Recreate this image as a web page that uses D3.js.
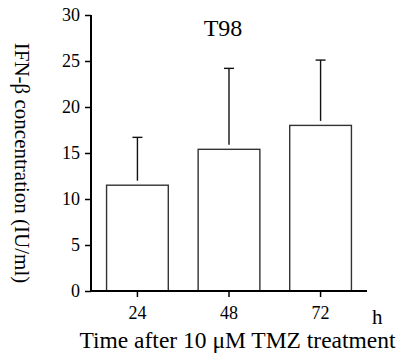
<!DOCTYPE html>
<html>
<head>
<meta charset="utf-8">
<script src="https://cdn.jsdelivr.net/npm/d3@7"></script>
<style>
  body { margin: 0; background: #fff; }
  text { font-family: "Liberation Serif", "DejaVu Serif", serif; fill: #000; }
</style>
</head>
<body>
<svg id="chart" width="400" height="354"></svg>
<script>
// data
const hours = ['24', '48', '72'];
const means = [11.5, 15.4, 18.0];
const errTops = [16.7, 24.2, 25.1];
const yTicks = [0, 5, 10, 15, 20, 25, 30];

const svg = d3.select('#chart');

const x = d3.scaleBand()
    .domain(hours)
    .range([91, 367])
    .paddingInner(0.326)
    .paddingOuter(0.17);

const y = d3.scaleLinear()
    .domain([0, 30])
    .range([291, 15]);

// bars
svg.append('g')
    .selectAll('rect')
    .data(hours)
    .enter()
    .append('rect')
    .attr('x', (d) => x(d))
    .attr('y', (d, i) => y(means[i]))
    .attr('width', x.bandwidth())
    .attr('height', (d, i) => y(0) - y(means[i]))
    .attr('fill', '#fff')
    .attr('stroke', '#333')
    .attr('stroke-width', 1.4);

// error bars (upper only)
const err = svg.append('g').attr('stroke', '#111').attr('stroke-width', 1.4);
hours.forEach((d, i) => {
    const cx = x(d) + x.bandwidth() / 2;
    err.append('line')
        .attr('x1', cx).attr('x2', cx)
        .attr('y1', y(means[i]) - 4.5)
        .attr('y2', y(errTops[i]));
    err.append('line')
        .attr('x1', cx - 5).attr('x2', cx + 5)
        .attr('y1', y(errTops[i]))
        .attr('y2', y(errTops[i]));
});

// y axis
const yAxis = svg.append('g')
    .attr('transform', 'translate(91,0)')
    .call(d3.axisLeft(y).tickValues(yTicks).tickSize(6).tickPadding(5));
yAxis.select('.domain').attr('stroke', '#000').attr('stroke-width', 2)
    .attr('d', `M0,${y(30)}V${y(0)}`);
yAxis.selectAll('.tick line').attr('stroke', '#000').attr('stroke-width', 1.5);
yAxis.selectAll('.tick text').attr('font-size', 18).attr('font-family', 'Liberation Serif');

// x axis
const xAxis = svg.append('g')
    .attr('transform', `translate(0,${y(0)})`)
    .call(d3.axisBottom(x).tickSize(6).tickPadding(9));
xAxis.select('.domain').attr('stroke', '#000').attr('stroke-width', 2)
    .attr('d', 'M91,0H367');
xAxis.selectAll('.tick line').attr('stroke', '#000').attr('stroke-width', 1.5);
xAxis.selectAll('.tick text').attr('font-size', 18).attr('font-family', 'Liberation Serif');

// labels
svg.append('text')
    .attr('x', 223).attr('y', 36)
    .attr('text-anchor', 'middle')
    .attr('font-size', 24)
    .text('T98');

svg.append('text')
    .attr('x', 372).attr('y', 324)
    .attr('font-size', 21)
    .text('h');

svg.append('text')
    .attr('x', 237.5).attr('y', 348)
    .attr('text-anchor', 'middle')
    .attr('font-size', 23.5)
    .text('Time after 10 μM TMZ treatment');

svg.append('text')
    .attr('transform', 'translate(15,163) rotate(90)')
    .attr('text-anchor', 'middle')
    .attr('font-size', 21)
    .text('IFN-β concentration (IU/ml)');
</script>
</body>
</html>
